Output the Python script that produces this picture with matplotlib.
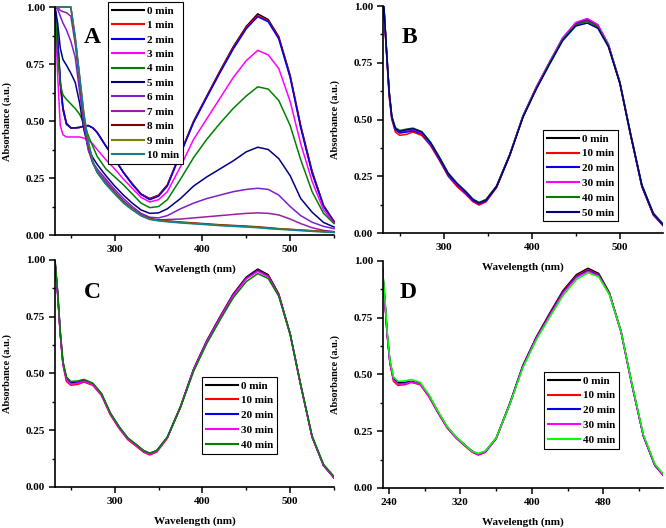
import numpy as np
import matplotlib
matplotlib.use("Agg")
import matplotlib.pyplot as plt
from matplotlib.ticker import MultipleLocator

plt.rcParams['font.family'] = ['Liberation Serif', 'DejaVu Serif']
plt.rcParams['font.weight'] = 'bold'

# ---------------- data ----------------
WL_A = [232, 235, 238, 241, 245, 250, 255, 260, 265, 270, 275, 280, 290, 300, 310, 320, 330,
        340, 350, 360, 375, 390, 405, 420, 435, 450, 463, 475, 487, 500, 512, 525, 538, 550]

A_LABELS = ['0 min', '1 min', '2 min', '3 min', '4 min', '5 min', '6 min', '7 min',
            '8 min', '9 min', '10 min']
A_COLORS = ['black', 'red', '#0000ee', 'magenta', '#008000', '#000080', '#7b1fd0',
            '#9a1fa0', '#800000', '#808000', '#108090']

a_0 = [1.0, 0.85, 0.66, 0.55, 0.485, 0.47, 0.47, 0.472, 0.478, 0.48, 0.47, 0.45, 0.39, 0.335, 0.275, 0.225, 0.18,
       0.16, 0.175, 0.22, 0.36, 0.5, 0.61, 0.72, 0.825, 0.915, 0.97, 0.945, 0.87, 0.70, 0.48, 0.28, 0.13, 0.06]
a_1 = [1.0, 0.86, 0.67, 0.56, 0.49, 0.47, 0.47, 0.472, 0.478, 0.48, 0.47, 0.45, 0.39, 0.335, 0.275, 0.225, 0.18,
       0.158, 0.173, 0.218, 0.358, 0.497, 0.607, 0.716, 0.82, 0.91, 0.963, 0.94, 0.865, 0.695, 0.475, 0.275, 0.128, 0.058]
a_2 = [1.0, 0.86, 0.68, 0.56, 0.49, 0.47, 0.47, 0.472, 0.478, 0.48, 0.47, 0.45, 0.39, 0.333, 0.273, 0.222, 0.178,
       0.155, 0.17, 0.215, 0.355, 0.494, 0.604, 0.712, 0.815, 0.905, 0.958, 0.935, 0.86, 0.69, 0.47, 0.27, 0.125, 0.057]
a_3 = [1.0, 0.70, 0.48, 0.44, 0.43, 0.43, 0.43, 0.43, 0.425, 0.415, 0.40, 0.375, 0.33, 0.29, 0.245, 0.205, 0.165,
       0.145, 0.155, 0.19, 0.30, 0.42, 0.51, 0.60, 0.69, 0.765, 0.81, 0.79, 0.73, 0.585, 0.40, 0.235, 0.11, 0.052]
a_4 = [1.0, 0.80, 0.66, 0.615, 0.595, 0.575, 0.555, 0.53, 0.49, 0.435, 0.39, 0.345, 0.29, 0.255, 0.22, 0.18, 0.14,
       0.12, 0.125, 0.155, 0.245, 0.34, 0.42, 0.49, 0.555, 0.61, 0.65, 0.64, 0.59, 0.48, 0.33, 0.19, 0.095, 0.05]
a_5 = [1.0, 0.93, 0.82, 0.77, 0.745, 0.71, 0.67, 0.58, 0.46, 0.38, 0.34, 0.31, 0.26, 0.215, 0.175, 0.14, 0.11,
       0.095, 0.097, 0.115, 0.16, 0.215, 0.255, 0.29, 0.325, 0.365, 0.385, 0.375, 0.335, 0.26, 0.16, 0.10, 0.055, 0.035]
a_6 = [1.0, 0.99, 0.96, 0.93, 0.90, 0.85, 0.78, 0.63, 0.48, 0.37, 0.32, 0.29, 0.245, 0.20, 0.16, 0.125, 0.095,
       0.078, 0.075, 0.085, 0.115, 0.14, 0.16, 0.175, 0.19, 0.20, 0.205, 0.20, 0.175, 0.125, 0.085, 0.056, 0.038, 0.028]
a_7 = [1.0, 1.0, 0.985, 0.98, 0.975, 0.96, 0.84, 0.67, 0.50, 0.38, 0.315, 0.28, 0.235, 0.19, 0.15, 0.115, 0.087,
       0.07, 0.066, 0.068, 0.07, 0.075, 0.08, 0.085, 0.09, 0.095, 0.097, 0.095, 0.088, 0.07, 0.05, 0.032, 0.02, 0.015]
a_8 = [1.0, 1.0, 1.0, 1.0, 1.0, 1.0, 0.86, 0.69, 0.52, 0.40, 0.32, 0.275, 0.225, 0.185, 0.145, 0.115, 0.088,
       0.072, 0.066, 0.062, 0.057, 0.053, 0.049, 0.045, 0.042, 0.039, 0.036, 0.032, 0.028, 0.025, 0.022, 0.019, 0.016, 0.014]
a_9 = [1.0, 1.0, 1.0, 1.0, 1.0, 1.0, 0.865, 0.695, 0.525, 0.405, 0.322, 0.275, 0.224, 0.183, 0.143, 0.113, 0.086,
       0.07, 0.064, 0.06, 0.055, 0.051, 0.047, 0.043, 0.04, 0.037, 0.034, 0.03, 0.027, 0.024, 0.021, 0.018, 0.015, 0.013]
a_10 = [1.0, 1.0, 1.0, 1.0, 1.0, 1.0, 0.87, 0.70, 0.53, 0.41, 0.325, 0.275, 0.222, 0.18, 0.14, 0.11, 0.084,
        0.068, 0.062, 0.058, 0.053, 0.049, 0.045, 0.041, 0.038, 0.035, 0.032, 0.028, 0.025, 0.022, 0.019, 0.016, 0.013, 0.011]

WL_B = [232, 235, 238, 241, 245, 250, 258, 265, 275, 285, 295, 305, 315, 325, 333, 340,
        348, 360, 375, 390, 405, 420, 435, 450, 463, 475, 487, 500, 512, 525, 538, 550]

B_LABELS = ['0 min', '10 min', '20 min', '30 min', '40 min', '50 min']
B_COLORS = ['black', 'red', '#0000ee', 'magenta', '#008000', '#000080']
b_0 = [0.99, 0.80, 0.62, 0.51, 0.46, 0.445, 0.45, 0.455, 0.44, 0.395, 0.33, 0.26, 0.215, 0.18, 0.148, 0.132,
       0.145, 0.205, 0.345, 0.515, 0.64, 0.75, 0.855, 0.92, 0.935, 0.91, 0.825, 0.66, 0.435, 0.205, 0.08, 0.03]
b_10 = [0.98, 0.79, 0.60, 0.50, 0.445, 0.43, 0.435, 0.445, 0.43, 0.385, 0.32, 0.25, 0.205, 0.17, 0.138, 0.123,
        0.137, 0.20, 0.342, 0.512, 0.638, 0.748, 0.855, 0.922, 0.938, 0.912, 0.826, 0.66, 0.435, 0.205, 0.08, 0.028]
b_20 = [0.99, 0.80, 0.61, 0.505, 0.455, 0.44, 0.445, 0.45, 0.437, 0.39, 0.325, 0.255, 0.21, 0.176, 0.143, 0.128,
        0.142, 0.203, 0.344, 0.514, 0.64, 0.75, 0.857, 0.925, 0.942, 0.916, 0.83, 0.663, 0.437, 0.207, 0.082, 0.03]
b_30 = [0.99, 0.80, 0.615, 0.51, 0.46, 0.447, 0.452, 0.457, 0.442, 0.395, 0.33, 0.26, 0.214, 0.179, 0.146, 0.131,
        0.145, 0.206, 0.347, 0.517, 0.643, 0.753, 0.86, 0.928, 0.945, 0.918, 0.832, 0.665, 0.44, 0.21, 0.084, 0.032]
b_40 = [1.0, 0.81, 0.625, 0.515, 0.465, 0.452, 0.458, 0.462, 0.447, 0.40, 0.335, 0.265, 0.22, 0.184, 0.15, 0.135,
        0.148, 0.208, 0.346, 0.514, 0.638, 0.748, 0.853, 0.918, 0.932, 0.908, 0.826, 0.665, 0.442, 0.213, 0.088, 0.036]
b_50 = [1.0, 0.80, 0.62, 0.51, 0.46, 0.448, 0.455, 0.46, 0.445, 0.398, 0.332, 0.262, 0.217, 0.181, 0.147, 0.132,
        0.145, 0.205, 0.343, 0.51, 0.633, 0.742, 0.847, 0.912, 0.925, 0.902, 0.82, 0.66, 0.438, 0.21, 0.085, 0.033]

C_LABELS = ['0 min', '10 min', '20 min', '30 min', '40 min']
C_COLORS = ['black', 'red', '#0000ee', 'magenta', '#008000']
c_0 = [1.0, 0.86, 0.68, 0.55, 0.48, 0.46, 0.462, 0.47, 0.455, 0.41, 0.325, 0.265, 0.215, 0.185, 0.16, 0.148,
       0.16, 0.22, 0.355, 0.52, 0.645, 0.75, 0.85, 0.925, 0.96, 0.935, 0.85, 0.675, 0.45, 0.22, 0.095, 0.04]
c_10 = [0.99, 0.85, 0.67, 0.54, 0.465, 0.448, 0.452, 0.462, 0.448, 0.403, 0.318, 0.258, 0.208, 0.178, 0.153, 0.141,
        0.154, 0.215, 0.352, 0.518, 0.643, 0.748, 0.848, 0.922, 0.955, 0.93, 0.847, 0.673, 0.448, 0.22, 0.094, 0.04]
c_20 = [0.99, 0.85, 0.675, 0.545, 0.475, 0.456, 0.459, 0.467, 0.452, 0.407, 0.322, 0.262, 0.212, 0.182, 0.157, 0.145,
        0.158, 0.218, 0.353, 0.518, 0.642, 0.746, 0.846, 0.92, 0.953, 0.928, 0.845, 0.672, 0.448, 0.22, 0.095, 0.041]
c_30 = [0.99, 0.85, 0.675, 0.545, 0.473, 0.453, 0.457, 0.466, 0.451, 0.406, 0.321, 0.261, 0.211, 0.181, 0.156, 0.144,
        0.157, 0.217, 0.352, 0.516, 0.64, 0.744, 0.843, 0.917, 0.95, 0.926, 0.844, 0.672, 0.448, 0.22, 0.096, 0.042]
c_40 = [1.0, 0.86, 0.685, 0.555, 0.485, 0.465, 0.467, 0.474, 0.458, 0.412, 0.327, 0.266, 0.216, 0.186, 0.16, 0.149,
        0.161, 0.219, 0.35, 0.51, 0.632, 0.735, 0.833, 0.905, 0.94, 0.918, 0.84, 0.672, 0.45, 0.225, 0.10, 0.046]

D_LABELS = ['0 min', '10 min', '20 min', '30 min', '40 min']
D_COLORS = ['black', 'red', '#0000ee', 'magenta', '#00ff00']
d_0 = [1.0, 0.85, 0.68, 0.56, 0.485, 0.465, 0.465, 0.47, 0.46, 0.405, 0.335, 0.27, 0.225, 0.19, 0.163, 0.15,
       0.162, 0.22, 0.37, 0.54, 0.665, 0.77, 0.87, 0.94, 0.968, 0.945, 0.86, 0.69, 0.46, 0.23, 0.10, 0.045]
d_10 = [0.99, 0.84, 0.67, 0.55, 0.47, 0.452, 0.455, 0.465, 0.455, 0.40, 0.33, 0.265, 0.22, 0.185, 0.158, 0.145,
        0.157, 0.216, 0.366, 0.537, 0.662, 0.766, 0.865, 0.935, 0.962, 0.94, 0.857, 0.688, 0.458, 0.228, 0.098, 0.043]
d_20 = [0.99, 0.845, 0.675, 0.555, 0.478, 0.46, 0.461, 0.468, 0.458, 0.403, 0.333, 0.268, 0.223, 0.188, 0.161, 0.148,
        0.16, 0.218, 0.367, 0.537, 0.661, 0.764, 0.862, 0.931, 0.958, 0.937, 0.855, 0.687, 0.458, 0.229, 0.099, 0.044]
d_30 = [0.99, 0.845, 0.675, 0.553, 0.476, 0.457, 0.459, 0.467, 0.457, 0.402, 0.332, 0.267, 0.222, 0.187, 0.16, 0.147,
        0.159, 0.217, 0.365, 0.534, 0.658, 0.76, 0.858, 0.927, 0.954, 0.934, 0.853, 0.686, 0.458, 0.23, 0.10, 0.045]
d_40 = [1.0, 0.86, 0.69, 0.565, 0.49, 0.47, 0.472, 0.478, 0.465, 0.41, 0.338, 0.272, 0.226, 0.19, 0.162, 0.152,
        0.163, 0.22, 0.365, 0.53, 0.652, 0.752, 0.848, 0.918, 0.948, 0.93, 0.852, 0.69, 0.463, 0.235, 0.105, 0.05]


#
# one panel in Origin style
#
def style_axis(ax, xlim, xmajor, xminor, letter, lx, ly):
    ax.set_xlim(*xlim)
    ax.set_ylim(0, 1.0)
    ax.patch.set_alpha(0)
    ax.spines['top'].set_visible(False)
    ax.spines['right'].set_visible(False)
    for s in ('left', 'bottom'):
        ax.spines[s].set_linewidth(1.2)
    ax.xaxis.set_major_locator(MultipleLocator(xmajor))
    ax.xaxis.set_minor_locator(MultipleLocator(xminor))
    ax.yaxis.set_major_locator(MultipleLocator(0.25))
    ax.yaxis.set_minor_locator(MultipleLocator(0.125))
    ax.yaxis.set_major_formatter(plt.FormatStrFormatter('%.2f'))
    ax.tick_params(which='major', direction='out', length=4, width=1.1, labelsize=8, pad=3)
    ax.tick_params(which='minor', direction='out', length=2.5, width=1.0)
    ax.set_xlabel('Wavelength (nm)', fontsize=8, fontweight='bold', labelpad=8)
    ax.set_ylabel('Absorbance (a.u.)', fontsize=7.5, fontweight='bold', labelpad=10)
    ax.text(lx, ly, letter, transform=ax.transAxes, fontsize=17, fontweight='bold',
            ha='center', va='center')


def add_legend(ax, x, y, spacing):
    leg = ax.legend(loc='upper left', bbox_to_anchor=(x, y), borderaxespad=0,
                    fancybox=False, framealpha=1, edgecolor='black',
                    handlelength=2.9, handletextpad=0.25, labelspacing=spacing,
                    borderpad=0.35, prop={'weight': 'bold', 'size': 8})
    leg.get_frame().set_linewidth(0.8)
    for line in leg.get_lines():
        line.set_linewidth(1.5)
    return leg


fig = plt.figure(figsize=(6.66, 5.28), dpi=100)
axA = fig.add_axes([0.0826, 0.5549, 0.4190, 0.4318])
axB = fig.add_axes([0.5751, 0.5587, 0.4204, 0.4299])
axC = fig.add_axes([0.0826, 0.0777, 0.4190, 0.4299])
axD = fig.add_axes([0.5751, 0.0758, 0.4204, 0.4299])

seriesA = [a_0, a_1, a_2, a_3, a_4, a_5, a_6, a_7, a_8, a_9, a_10]
for y, c, lab in zip(seriesA, A_COLORS, A_LABELS):
    axA.plot(WL_A, y, color=c, lw=1.1, label=lab, clip_on=False)
style_axis(axA, (232, 550), 100, 50, 'A', 0.133, 0.868)
add_legend(axA, 0.19, 1.022, 0.42)

for y, c, lab in zip([b_0, b_10, b_20, b_30, b_40, b_50], B_COLORS, B_LABELS):
    axB.plot(WL_B, y, color=c, lw=1.1, label=lab)
style_axis(axB, (231, 549), 100, 50, 'B', 0.093, 0.863)
add_legend(axB, 0.571, 0.454, 0.45)

for y, c, lab in zip([c_0, c_10, c_20, c_30, c_40], C_COLORS, C_LABELS):
    axC.plot(WL_B, y, color=c, lw=1.1, label=lab)
style_axis(axC, (232, 550), 100, 50, 'C', 0.133, 0.855)
add_legend(axC, 0.527, 0.485, 0.45)

for y, c, lab in zip([d_0, d_10, d_20, d_30, d_40], D_COLORS, D_LABELS):
    axD.plot(WL_B, y, color=c, lw=1.1, label=lab)
style_axis(axD, (233.3, 547), 80, 40, 'D', 0.089, 0.859)
add_legend(axD, 0.575, 0.511, 0.45)

fig.savefig('out.png', dpi=100)
